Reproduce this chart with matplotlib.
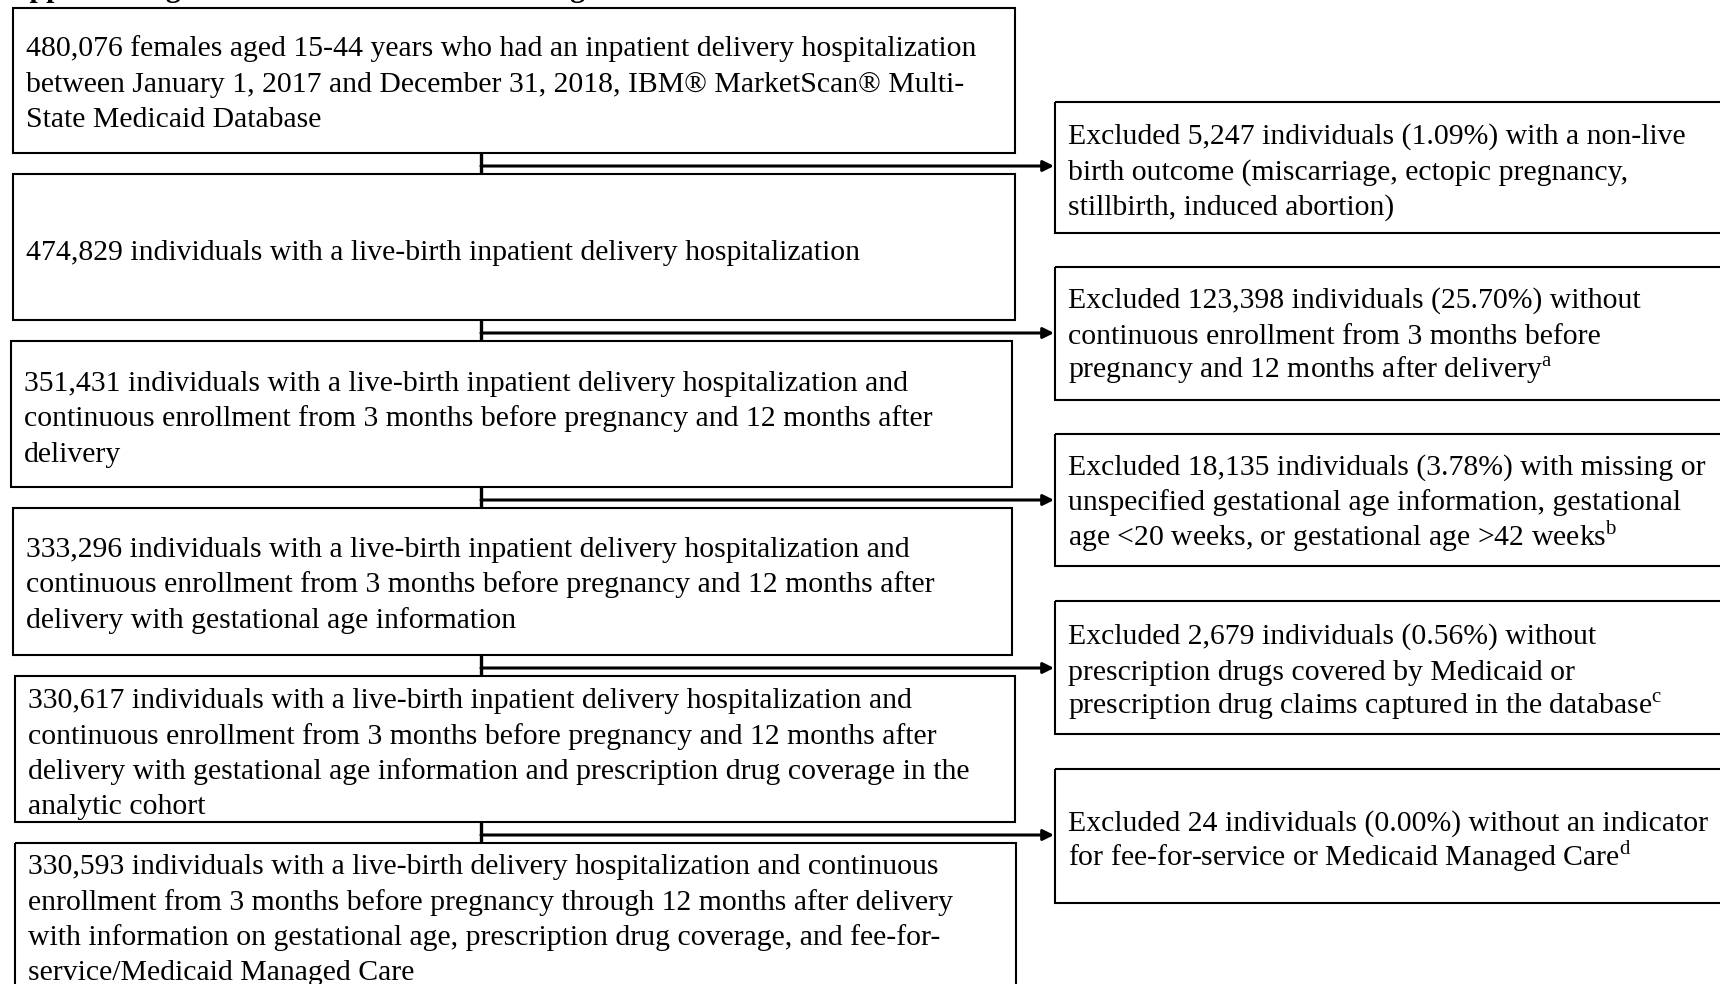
import matplotlib
matplotlib.use("Agg")
import matplotlib.pyplot as plt
from matplotlib.patches import Rectangle

plt.rcParams['font.family'] = ['Liberation Serif', 'DejaVu Serif']
plt.rcParams['mathtext.fontset'] = 'custom'
plt.rcParams['mathtext.rm'] = 'Liberation Serif'

# cohort counts at each step and the exclusions between them
cohort_n = [480076, 474829, 351431, 333296, 330617, 330593]
excluded_n = [5247, 123398, 18135, 2679, 24]
excluded_pct = [1.09, 25.70, 3.78, 0.56, 0.00]

cohort_lines = [
    ["<N> females aged 15-44 years who had an inpatient delivery hospitalization",
     "between January 1, 2017 and December 31, 2018, IBM\u00ae MarketScan\u00ae Multi-",
     "State Medicaid Database"],
    ["<N> individuals with a live-birth inpatient delivery hospitalization"],
    ["<N> individuals with a live-birth inpatient delivery hospitalization and",
     "continuous enrollment from 3 months before pregnancy and 12 months after",
     "delivery"],
    ["<N> individuals with a live-birth inpatient delivery hospitalization and",
     "continuous enrollment from 3 months before pregnancy and 12 months after",
     "delivery with gestational age information"],
    ["<N> individuals with a live-birth inpatient delivery hospitalization and",
     "continuous enrollment from 3 months before pregnancy and 12 months after",
     "delivery with gestational age information and prescription drug coverage in the",
     "analytic cohort"],
    ["<N> individuals with a live-birth delivery hospitalization and continuous",
     "enrollment from 3 months before pregnancy through 12 months after delivery",
     "with information on gestational age, prescription drug coverage, and fee-for-",
     "service/Medicaid Managed Care"],
]

excluded_lines = [
    ["Excluded <N> individuals (<P>%) with a non-live",
     "birth outcome (miscarriage, ectopic pregnancy,",
     "stillbirth, induced abortion)"],
    ["Excluded <N> individuals (<P>%) without",
     "continuous enrollment from 3 months before",
     r"pregnancy and 12 months after delivery$^\mathregular{a}$"],
    ["Excluded <N> individuals (<P>%) with missing or",
     "unspecified gestational age information, gestational",
     r"age <20 weeks, or gestational age >42 weeks$^\mathregular{b}$"],
    ["Excluded <N> individuals (<P>%) without",
     "prescription drugs covered by Medicaid or",
     r"prescription drug claims captured in the database$^\mathregular{c}$"],
    ["Excluded <N> individuals (<P>%) without an indicator",
     r"for fee-for-service or Medicaid Managed Care$^\mathregular{d}$"],
]

# layout in pixels (figure is 1720 x 984)
W, H = 1720, 984
left_boxes = [(13, 8, 1002, 145), (13, 174, 1002, 146), (11, 341, 1001, 146),
              (13, 508, 999, 147), (15, 676, 1000, 146), (15, 843, 1001, 160)]
left_text_y = [46, 250, 381, 547, 698, 864]
right_boxes = [(1055, 102, 700, 131), (1055, 267, 700, 133), (1055, 434, 700, 132),
               (1055, 601, 700, 133), (1055, 769, 700, 134)]
right_text_y = [134, 298, 465, 634, 821]
conn_x = 481
line_h = 35.5
fs = 21.4

fig = plt.figure(figsize=(17.2, 9.84), dpi=100)
ax = fig.add_axes([0, 0, 1, 1])
ax.set_xlim(0, W)
ax.set_ylim(H, 0)
ax.axis('off')

# title, mostly cut off at the top edge (as in the source page)
ax.text(8, -3, "Appendix Figure 1. Flowchart of cohort design", fontsize=fs,
        fontweight='bold', va='baseline', ha='left')

for i, (x, y, w, h) in enumerate(left_boxes):
    ax.add_patch(Rectangle((x, y), w, h, fill=False, ec='black', lw=1.5))
    for j, line in enumerate(cohort_lines[i]):
        ax.text(x + 13, left_text_y[i] + j * line_h + 10,
                line.replace("<N>", f"{cohort_n[i]:,}"),
                fontsize=fs, va='baseline', ha='left')

for i, (x, y, w, h) in enumerate(right_boxes):
    ax.add_patch(Rectangle((x, y), w, h, fill=False, ec='black', lw=1.5))
    for j, line in enumerate(excluded_lines[i]):
        txt = line.replace("<N>", f"{excluded_n[i]:,}")
        txt = txt.replace("<P>", f"{excluded_pct[i]:.2f}")
        ax.text(x + 13, right_text_y[i] + j * line_h + 10, txt,
                fontsize=fs, va='baseline', ha='left')

# connectors: short vertical between boxes, arrow out to the exclusion box
for i in range(len(excluded_n)):
    top = left_boxes[i][1] + left_boxes[i][3]
    bot = left_boxes[i + 1][1]
    ax.plot([conn_x, conn_x], [top, bot], color='black', lw=2.4,
            solid_capstyle='butt')
    ym = (top + bot) / 2 + 2.5
    ax.annotate("", xy=(right_boxes[i][0] - 1, ym), xytext=(conn_x, ym),
                arrowprops=dict(arrowstyle='-|>', color='black', lw=2.2,
                                mutation_scale=16, shrinkA=0, shrinkB=0))

fig.savefig("out.png", dpi=100)
